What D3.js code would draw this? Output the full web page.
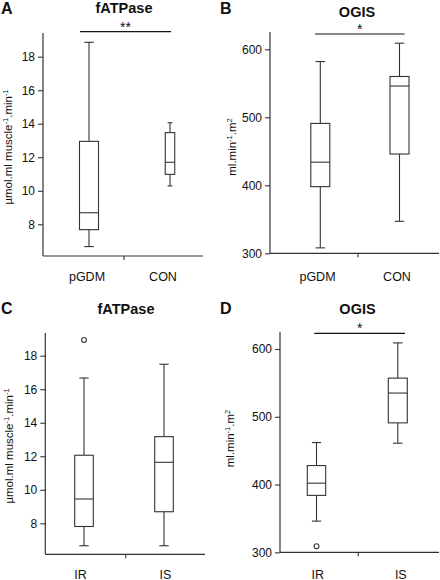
<!DOCTYPE html>
<html><head><meta charset="utf-8">
<script src="https://cdn.jsdelivr.net/npm/d3@7"></script>
<style>body{margin:0;background:#fff}svg{display:block}text{font-family:"Liberation Sans",Arial,sans-serif;fill:#111}</style>
</head><body><svg id="c" width="440" height="580"></svg>
<script>
// ---- data ----
const panelLetters = ["A","B","C","D"];
const panelTitles = ["fATPase","OGIS","fATPase","OGIS"];
const catsAB = ["pGDM","CON"];
const catsCD = ["IR","IS"];
// box stats: [min, q1, median, q3, max]
const fatpaseGdm = [[6.67,7.68,8.69,12.95,18.86],[10.29,10.98,11.7,13.47,14.06]];
const ogisGdm = [[308,398,434,491,582],[347,446,546,560,609]];
const fatpaseIr = [[6.66,7.81,9.45,12.06,16.67],[6.66,8.69,11.64,13.17,17.49]];
const ogisIr = [[346,384,402,428,462],[461,491,535,557,609]];
const outliersC = [[18.94],[]];
const outliersD = [[309],[]];
const ticksFat = [8,10,12,14,16,18];
const ticksOgis = [300,400,500,600];
const sigLabels = ["**","*","","*"];

const svg = d3.select("#c");
const line = "#333";

const panels = [
 {cats:catsAB, stats:fatpaseGdm, out:[[],[]], ticks:ticksFat, dom:[8,18], rng:[224.3,56.7], axTop:33, axBot:256, axL:43, axR:203, mid:124,
  box:[89,170], bw:[19,9.5], lab:[87,163], labY:281, ylab:"fat", ylx:8, yly:147, tx:124, ty:13, lx:1, ly:14, sig:[80,171,31.7]},
 {cats:catsAB, stats:ogisGdm, out:[[],[]], ticks:ticksOgis, dom:[300,600], rng:[253.3,49.3], axTop:32, axBot:253.3, axL:270, axR:439, mid:358,
  box:[320.3,399.5], bw:[19,19], lab:[317.5,397], labY:281, ylab:"ogis", ylx:232, yly:147, tx:357, ty:16.5, lx:220, ly:14, sig:[315,404.5,34]},
 {cats:catsCD, stats:fatpaseIr, out:outliersC, ticks:ticksFat, dom:[8,18], rng:[523.3,355.7], axTop:333, axBot:554.3, axL:45.3, axR:205, mid:125.7,
  box:[84,164], bw:[18.6,18.6], lab:[80.5,165.5], labY:578.5, ylab:"fat", ylx:9, yly:446, tx:126, ty:313.5, lx:1, ly:314, sig:null},
 {cats:catsCD, stats:ogisIr, out:outliersD, ticks:ticksOgis, dom:[300,600], rng:[552.3,349], axTop:331.7, axBot:552.3, axL:280, axR:439, mid:358.3,
  box:[316.5,397.8], bw:[18.4,19], lab:[317.7,400.8], labY:578.5, ylab:"ogis", ylx:230, yly:438.5, tx:357.5, ty:314, lx:220, ly:314, sig:[314.3,405,333.3]}
];

panels.forEach((p,i)=>{
  const g = svg.append("g");
  const y = d3.scaleLinear().domain(p.dom).range(p.rng);
  const x = d3.scalePoint().domain(p.cats).range(p.box);
  const xl = d3.scalePoint().domain(p.cats).range(p.lab);
  // y axis
  g.append("line").attr("x1",p.axL).attr("x2",p.axL).attr("y1",p.axTop).attr("y2",p.axBot).attr("stroke",line).attr("stroke-width",1.2);
  const ax = g.append("g").attr("transform",`translate(${p.axL},0)`)
    .call(d3.axisLeft(y).tickValues(p.ticks).tickSize(5).tickPadding(3).tickFormat(d3.format("d")));
  ax.select(".domain").remove();
  ax.selectAll("line").attr("stroke",line).attr("stroke-width",1.1);
  ax.selectAll("text").attr("font-size","12px").attr("fill","#111").style("font-family","Liberation Sans, Arial, sans-serif");
  // x axis
  g.append("line").attr("x1",p.axL).attr("x2",p.axR).attr("y1",p.axBot).attr("y2",p.axBot).attr("stroke",line).attr("stroke-width",1.2);
  g.append("line").attr("x1",p.mid).attr("x2",p.mid).attr("y1",p.axBot).attr("y2",p.axBot+4).attr("stroke",line).attr("stroke-width",1.1);
  p.cats.forEach(c=>{
    g.append("text").attr("x",xl(c)).attr("y",p.labY).attr("text-anchor","middle").attr("font-size","12.5px").text(c);
  });
  // boxes
  p.stats.forEach((s,j)=>{
    const c = p.cats[j], cx = x(c), w = p.bw[j], cap = Math.min(w/2,9.5);
    const [mn,q1,md,q3,mx] = s;
    const bg = g.append("g").attr("stroke",line).attr("stroke-width",1.1).attr("fill","none");
    bg.append("line").attr("x1",cx).attr("x2",cx).attr("y1",y(mx)).attr("y2",y(q3));
    bg.append("line").attr("x1",cx).attr("x2",cx).attr("y1",y(q1)).attr("y2",y(mn));
    bg.append("line").attr("x1",cx-cap/2).attr("x2",cx+cap/2).attr("y1",y(mx)).attr("y2",y(mx));
    bg.append("line").attr("x1",cx-cap/2).attr("x2",cx+cap/2).attr("y1",y(mn)).attr("y2",y(mn));
    bg.append("rect").attr("x",cx-w/2).attr("y",y(q3)).attr("width",w).attr("height",y(q1)-y(q3)).attr("fill","#fff");
    bg.append("line").attr("x1",cx-w/2).attr("x2",cx+w/2).attr("y1",y(md)).attr("y2",y(md));
    p.out[j].forEach(o=>{
      bg.append("circle").attr("cx",cx).attr("cy",y(o)).attr("r",2.4).attr("fill","#fff");
    });
  });
  // y label
  const yl = g.append("text").attr("transform",`translate(${p.ylx+4},${p.yly}) rotate(-90)`).attr("text-anchor","middle").attr("font-size","11.5px");
  if(p.ylab==="fat"){
    yl.append("tspan").text("µmol.ml muscle");
    yl.append("tspan").attr("font-size","7.5px").attr("dy","-4").text("-1");
    yl.append("tspan").attr("dy","4").text(".min");
    yl.append("tspan").attr("font-size","7.5px").attr("dy","-4").text("-1");
  } else {
    yl.append("tspan").text("ml.min");
    yl.append("tspan").attr("font-size","7.5px").attr("dy","-4").text("-1");
    yl.append("tspan").attr("dy","4").text(".m");
    yl.append("tspan").attr("font-size","7.5px").attr("dy","-4").text("2");
  }
  // title & letter
  g.append("text").attr("x",p.tx).attr("y",p.ty).attr("text-anchor","middle").attr("font-size","14.5px").attr("font-weight","bold").text(panelTitles[i]);
  g.append("text").attr("x",p.lx).attr("y",p.ly).attr("font-size","16px").attr("font-weight","bold").text(panelLetters[i]);
  // significance
  if(p.sig){
    g.append("line").attr("x1",p.sig[0]).attr("x2",p.sig[1]).attr("y1",p.sig[2]).attr("y2",p.sig[2]).attr("stroke","#111").attr("stroke-width",1.2);
    g.append("text").attr("x",(p.sig[0]+p.sig[1])/2).attr("y",p.sig[2]+1).attr("text-anchor","middle").attr("font-size","14px").attr("dy","-1").text(sigLabels[i]);
  }
});
</script></body></html>
